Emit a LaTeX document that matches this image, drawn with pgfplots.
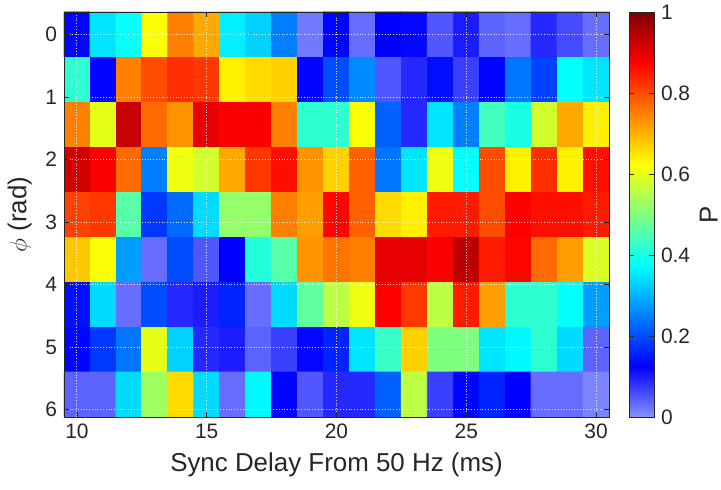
\documentclass[border=0pt]{standalone}
\usepackage{pgfplots}
\pgfplotsset{compat=1.18}
\usepackage{fontspec}
\setmainfont{Liberation Sans}
\definecolor{axgray}{RGB}{38,38,38}

\begin{document}
\begin{tikzpicture}
\begin{axis}[
    scale only axis,
    width=272.5bp, height=202.5bp,
    xmin=9.5, xmax=30.5,
    ymin=-0.36, ymax=6.12,
    y dir=reverse,
    enlargelimits=false,
    axis on top,
    xtick={10,15,20,25,30},
    ytick={0,1,2,3,4,5,6},
    tick align=inside,
    major tick length=2.5bp,
    grid=major,
    grid style={white, densely dotted, line width=0.5pt, opacity=0.85},
    axis line style={axgray, line width=0.4pt},
    tick style={axgray, line width=0.4pt},
    ticklabel style={font=\fontsize{10.5}{12}\selectfont, text=axgray},
    label style={font=\fontsize{13}{15}\selectfont, text=axgray},
    /pgf/number format/assume math mode=true,
    xlabel={Sync Delay From 50 Hz (ms)},
    ylabel={$\phi$ (rad)},
    colormap={matjet}{rgb255(0cm)=(135,145,255); rgb255(1cm)=(0,0,255);
      rgb255(3cm)=(0,255,255); rgb255(5cm)=(255,255,0);
      rgb255(7cm)=(255,0,0); rgb255(8cm)=(128,0,0)},
    point meta min=0, point meta max=1,
    colorbar,
    colorbar style={
      at={(parent axis.north east)}, anchor=north west,
      xshift=1.5bp, width=12.5bp,
      ytick={0,0.2,0.4,0.6,0.8,1},
      yticklabel style={font=\fontsize{10.5}{12}\selectfont, text=axgray,
        /pgf/number format/fixed, /pgf/number format/precision=1},
      /pgf/number format/assume math mode=true,
      ylabel={P},
      ylabel style={font=\fontsize{13}{15}\selectfont, text=axgray, yshift=2bp},
      tick align=inside,
      major tick length=2.5bp,
      axis line style={axgray, line width=0.4pt},
      tick style={axgray, line width=0.4pt},
    },
]
\addplot[matrix plot*, mesh/cols=21, point meta=explicit] coordinates {
(10,0)[0.13] (11,0)[0.35] (12,0)[0.38] (13,0)[0.62] (14,0)[0.75] (15,0)[0.71] (16,0)[0.36] (17,0)[0.33] (18,0)[0.25] (19,0)[0.02] (20,0)[0.13] (21,0)[0.03] (22,0)[0.125] (23,0)[0.12] (24,0)[0.05] (25,0)[0.1] (26,0)[0.04] (27,0)[0.03] (28,0)[0.09] (29,0)[0.06] (30,0)[0.03]
(10,0.72)[0.42] (11,0.72)[0.13] (12,0.72)[0.75] (13,0.72)[0.8] (14,0.72)[0.83] (15,0.72)[0.82] (16,0.72)[0.64] (17,0.72)[0.66] (18,0.72)[0.67] (19,0.72)[0.13] (20,0.72)[0.2] (21,0.72)[0.26] (22,0.72)[0.05] (23,0.72)[0.09] (24,0.72)[0.14] (25,0.72)[0.07] (26,0.72)[0.13] (27,0.72)[0.24] (28,0.72)[0.19] (29,0.72)[0.38] (30,0.72)[0.35]
(10,1.44)[0.75] (11,1.44)[0.6] (12,1.44)[0.93] (13,1.44)[0.77] (14,1.44)[0.73] (15,1.44)[0.9] (16,1.44)[0.88] (17,1.44)[0.88] (18,1.44)[0.75] (19,1.44)[0.42] (20,1.44)[0.42] (21,1.44)[0.62] (22,1.44)[0.22] (23,1.44)[0.09] (24,1.44)[0.35] (25,1.44)[0.25] (26,1.44)[0.44] (27,1.44)[0.4] (28,1.44)[0.58] (29,1.44)[0.71] (30,1.44)[0.64]
(10,2.16)[0.92] (11,2.16)[0.88] (12,2.16)[0.77] (13,2.16)[0.25] (14,2.16)[0.61] (15,2.16)[0.58] (16,2.16)[0.71] (17,2.16)[0.82] (18,2.16)[0.86] (19,2.16)[0.73] (20,2.16)[0.67] (21,2.16)[0.78] (22,2.16)[0.24] (23,2.16)[0.35] (24,2.16)[0.61] (25,2.16)[0.375] (26,2.16)[0.8] (27,2.16)[0.64] (28,2.16)[0.83] (29,2.16)[0.64] (30,2.16)[0.86]
(10,2.88)[0.81] (11,2.88)[0.82] (12,2.88)[0.46] (13,2.88)[0.18] (14,2.88)[0.23] (15,2.88)[0.34] (16,2.88)[0.52] (17,2.88)[0.52] (18,2.88)[0.75] (19,2.88)[0.72] (20,2.88)[0.87] (21,2.88)[0.78] (22,2.88)[0.66] (23,2.88)[0.64] (24,2.88)[0.85] (25,2.88)[0.85] (26,2.88)[0.8] (27,2.88)[0.875] (28,2.88)[0.86] (29,2.88)[0.86] (30,2.88)[0.85]
(10,3.6)[0.68] (11,3.6)[0.62] (12,3.6)[0.28] (13,3.6)[0.03] (14,3.6)[0.2] (15,3.6)[0.05] (16,3.6)[0.125] (17,3.6)[0.41] (18,3.6)[0.46] (19,3.6)[0.73] (20,3.6)[0.76] (21,3.6)[0.75] (22,3.6)[0.9] (23,3.6)[0.9] (24,3.6)[0.88] (25,3.6)[0.94] (26,3.6)[0.85] (27,3.6)[0.87] (28,3.6)[0.77] (29,3.6)[0.72] (30,3.6)[0.59]
(10,4.32)[0.14] (11,4.32)[0.34] (12,4.32)[0.03] (13,4.32)[0.2] (14,4.32)[0.09] (15,4.32)[0.1] (16,4.32)[0.16] (17,4.32)[0.03] (18,4.32)[0.34] (19,4.32)[0.47] (20,4.32)[0.56] (21,4.32)[0.61] (22,4.32)[0.875] (23,4.32)[0.82] (24,4.32)[0.56] (25,4.32)[0.85] (26,4.32)[0.72] (27,4.32)[0.42] (28,4.32)[0.42] (29,4.32)[0.38] (30,4.32)[0.28]
(10,5.04)[0.13] (11,5.04)[0.18] (12,5.04)[0.24] (13,5.04)[0.6] (14,5.04)[0.33] (15,5.04)[0.09] (16,5.04)[0.1] (17,5.04)[0.04] (18,5.04)[0.07] (19,5.04)[0.12] (20,5.04)[0.16] (21,5.04)[0.35] (22,5.04)[0.43] (23,5.04)[0.67] (24,5.04)[0.5] (25,5.04)[0.5] (26,5.04)[0.35] (27,5.04)[0.37] (28,5.04)[0.42] (29,5.04)[0.34] (30,5.04)[0.04]
(10,5.76)[0.04] (11,5.76)[0.04] (12,5.76)[0.34] (13,5.76)[0.53] (14,5.76)[0.66] (15,5.76)[0.34] (16,5.76)[0.03] (17,5.76)[0.37] (18,5.76)[0.13] (19,5.76)[0.05] (20,5.76)[0.09] (21,5.76)[0.09] (22,5.76)[0.22] (23,5.76)[0.56] (24,5.76)[0.07] (25,5.76)[0.13] (26,5.76)[0.16] (27,5.76)[0.125] (28,5.76)[0.03] (29,5.76)[0.03] (30,5.76)[0.01]
};
\coordinate (bl) at (axis cs:9.5,6.12);
\coordinate (tr) at (axis cs:30.5,-0.36);
\end{axis}
\pgfresetboundingbox
\path ([shift={(-32bp,-36.5bp)}]bl) rectangle ([shift={(56bp,6bp)}]tr);
\end{tikzpicture}
\end{document}
